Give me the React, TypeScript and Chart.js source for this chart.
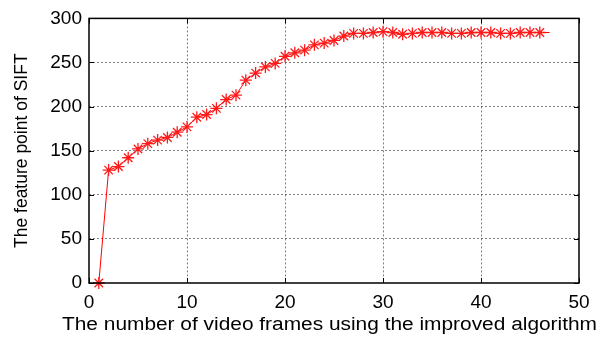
import React, { useEffect, useRef } from "react";
import { Chart, registerables } from "chart.js";

Chart.register(...registerables);

const frames: number[] = Array.from({ length: 47 }, (_, i) => i + 1);
const featurePoints: number[] = [
  0, 128, 132, 142, 152, 158, 162, 165, 171, 177,
  188, 191, 198, 208, 213, 230, 238, 245, 249, 257,
  261, 264, 270, 272, 275, 280, 283, 283, 284, 285,
  284, 282, 283, 284, 284, 284, 283, 283, 284, 284,
  284, 283, 283, 284, 284, 284, 284,
];
const xTicks: number[] = [0, 10, 20, 30, 40, 50];
const yTicks: number[] = [0, 50, 100, 150, 200, 250, 300];
const xTitle = "The number of video frames using the improved algorithm";
const yTitle = "The feature point of SIFT";

const FONT = "'Liberation Sans', Arial, sans-serif";

const boxPlugin = {
  id: "matlabBox",
  afterDatasetsDraw(chart: any) {
    const { ctx, chartArea } = chart;
    const { left, right, top, bottom } = chartArea;
    const xs = chart.scales.x;
    const ys = chart.scales.y;
    ctx.save();
    ctx.strokeStyle = "#000";
    ctx.lineWidth = 1;
    ctx.beginPath();
    const tl = 5;
    xTicks.forEach((v) => {
      const px = Math.round(xs.getPixelForValue(v)) + 0.5;
      ctx.moveTo(px, bottom);
      ctx.lineTo(px, bottom - tl);
      ctx.moveTo(px, top);
      ctx.lineTo(px, top + tl);
    });
    yTicks.forEach((v) => {
      const py = Math.round(ys.getPixelForValue(v)) + 0.5;
      ctx.moveTo(left, py);
      ctx.lineTo(left + tl, py);
      ctx.moveTo(right, py);
      ctx.lineTo(right - tl, py);
    });
    ctx.stroke();
    ctx.lineWidth = 1.5;
    ctx.strokeRect(left, top, right - left, bottom - top);
    ctx.restore();
  },
  afterDraw(chart: any) {
    const { ctx } = chart;
    ctx.save();
    ctx.font = `18px ${FONT}`;
    ctx.fillStyle = "#000";
    ctx.textAlign = "center";
    ctx.textBaseline = "alphabetic";
    const w = ctx.measureText(xTitle).width;
    const targetW = 535;
    const sx = targetW / w;
    ctx.translate(329.5, 330);
    ctx.scale(sx, 1);
    ctx.fillText(xTitle, 0, 0);
    ctx.restore();
  },
};

export default function App() {
  const ref = useRef<HTMLCanvasElement | null>(null);
  useEffect(() => {
    document.body.style.margin = "0";
    const canvas = ref.current;
    if (!canvas) return;
    const data = frames.map((f, i) => ({ x: f, y: featurePoints[i] }));
    const radii = frames.map((_, i) => (i === frames.length - 1 ? 0 : 6));
    const chart = new Chart(canvas, {
      type: "line",
      data: {
        datasets: [
          {
            data,
            borderColor: "#ff0000",
            backgroundColor: "#ff0000",
            borderWidth: 1,
            pointStyle: "star",
            pointRadius: radii,
            pointBorderColor: "#ff1a1a",
            pointBorderWidth: 1.3,
            fill: false,
            tension: 0,
            clip: false,
          },
        ],
      },
      options: {
        animation: false,
        responsive: false,
        events: [],
        layout: { padding: { left: 0, right: 22, top: 18, bottom: 0 } },
        plugins: { legend: { display: false }, tooltip: { enabled: false } },
        scales: {
          x: {
            type: "linear",
            min: 0,
            max: 50,
            afterBuildTicks: (scale: any) => {
              scale.ticks = xTicks.map((v) => ({ value: v }));
            },
            afterFit: (scale: any) => {
              scale.height = 55;
            },
            grid: {
              color: (c: any) =>
                c.tick && (c.tick.value === 0 || c.tick.value === 50) ? "rgba(0,0,0,0)" : "rgba(0,0,0,0.5)",
              drawTicks: false,
              lineWidth: 1,
            },
            border: { display: false, dash: [2, 2] },
            ticks: {
              color: "#000",
              padding: 8,
              font: { family: FONT, size: 19 },
              maxRotation: 0,
            },
            title: { display: false, text: xTitle },
          },
          y: {
            type: "linear",
            min: 0,
            max: 300,
            afterBuildTicks: (scale: any) => {
              scale.ticks = yTicks.map((v) => ({ value: v }));
            },
            afterFit: (scale: any) => {
              scale.width = 89;
            },
            grid: {
              color: (c: any) =>
                c.tick && (c.tick.value === 0 || c.tick.value === 300) ? "rgba(0,0,0,0)" : "rgba(0,0,0,0.5)",
              drawTicks: false,
              lineWidth: 1,
            },
            border: { display: false, dash: [2, 2] },
            ticks: {
              color: "#000",
              padding: 7,
              font: { family: FONT, size: 19 },
            },
            title: {
              display: true,
              text: yTitle,
              color: "#000",
              font: { family: FONT, size: 17.5 },
              padding: { top: 12, bottom: 0 },
            },
          },
        },
      },
      plugins: [boxPlugin],
    } as any);
    return () => chart.destroy();
  }, []);
  return <canvas ref={ref} width={601} height={338} style={{ display: "block" }} />;
}
